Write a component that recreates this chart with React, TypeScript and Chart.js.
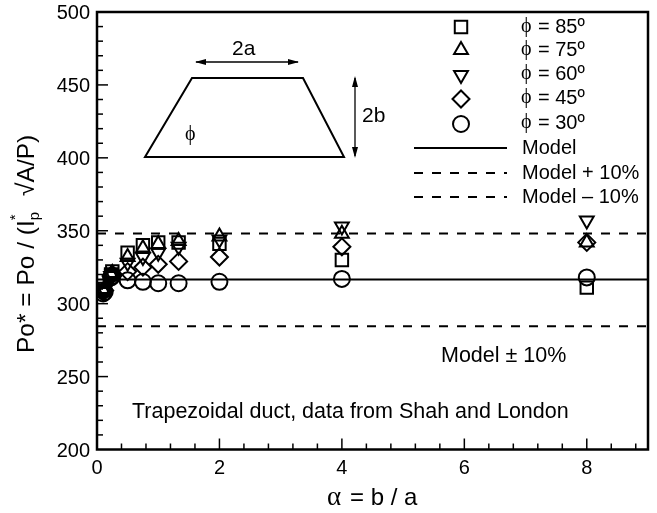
import React, { useEffect, useRef } from "react";
import { Chart, registerables } from "chart.js";
import { drawPoint } from "chart.js/helpers";

Chart.register(...registerables);

const alpha = [0.1, 0.125, 0.23, 0.25, 0.5, 0.75, 1, 1.333, 2, 4, 8];
const phi85 = [309, 310, 320, 322, 335, 340, 342, 342, 341, 330, 311];
const phi75 = [309, 310, 320, 321, 332, 338, 341, 343, 346, 348, 342];
const phi60 = [308, 309, 319, 320, 328, 332, 335, 339, 344, 353, 357];
const phi45 = [308, 309, 319, 320, 322, 325, 327, 329, 332, 339, 342];
const phi30 = [307, 308, 318, 319, 316, 315, 314, 314, 315, 317, 318];
const modelX = [0, 9];
const model = [316.5, 316.5];
const modelPlus = [348.2, 348.2];
const modelMinus = [284.5, 284.5];
const xMinorTicks = [0.4, 0.8, 1.2, 1.6, 2.4, 2.8, 3.2, 3.6, 4.4, 4.8, 5.2, 5.6, 6.4, 6.8, 7.2, 7.6, 8.4, 8.8];
const xMajorTicks = [2, 4, 6, 8];
const yMinorTicks = [210, 220, 230, 240, 260, 270, 280, 290, 310, 320, 330, 340, 360, 370, 380, 390, 410, 420, 430, 440, 460, 470, 480, 490];
const yMajorTicks = [250, 300, 350, 400, 450];

const FONT = '"Liberation Sans", Arial, sans-serif';
const GREEK = '"Liberation Serif", serif';
const pts = (v: number[]) => v.map((y, i) => ({ x: alpha[i], y }));
const line = (v: number[]) => v.map((y, i) => ({ x: modelX[i], y }));

const symbols = [
  { label: "= 85º", style: "rect", radius: 8.8, rotation: 0, y: 27, ty: 27 },
  { label: "= 75º", style: "triangle", radius: 8, rotation: 0, y: 50, ty: 50 },
  { label: "= 60º", style: "triangle", radius: 8, rotation: 180, y: 75, ty: 74 },
  { label: "= 45º", style: "rectRot", radius: 8.5, rotation: 0, y: 99, ty: 98 },
  { label: "= 30º", style: "circle", radius: 8, rotation: 0, y: 124, ty: 123 },
];

function arrowHead(ctx: CanvasRenderingContext2D, x: number, y: number, dx: number, dy: number) {
  const l = 11, w = 3;
  ctx.beginPath();
  ctx.moveTo(x, y);
  ctx.lineTo(x - dx * l - dy * w, y - dy * l - dx * w);
  ctx.lineTo(x - dx * l + dy * w, y - dy * l + dx * w);
  ctx.closePath();
  ctx.fill();
}

const decor = {
  id: "decor",
  afterDatasetsDraw(chart: any) {
    const { ctx, chartArea: a, scales } = chart;
    ctx.save();
    ctx.strokeStyle = "#000";
    ctx.fillStyle = "#000";

    ctx.lineWidth = 1.5;
    const tick = (x0: number, y0: number, x1: number, y1: number) => {
      ctx.beginPath(); ctx.moveTo(x0, y0); ctx.lineTo(x1, y1); ctx.stroke();
    };
    xMinorTicks.forEach((v) => { const x = scales.x.getPixelForValue(v); tick(x, a.bottom, x, a.bottom - 6); });
    xMajorTicks.forEach((v) => { const x = scales.x.getPixelForValue(v); tick(x, a.bottom, x, a.bottom - 11); });
    yMinorTicks.forEach((v) => { const y = scales.y.getPixelForValue(v); tick(a.left, y, a.left + 6, y); });
    yMajorTicks.forEach((v) => { const y = scales.y.getPixelForValue(v); tick(a.left, y, a.left + 11, y); });

    ctx.lineWidth = 2.5;
    ctx.strokeRect(a.left, a.top, a.right - a.left, a.bottom - a.top);

    ctx.lineWidth = 2;
    ctx.beginPath();
    ctx.moveTo(192, 78); ctx.lineTo(303, 78); ctx.lineTo(344, 157); ctx.lineTo(145, 157); ctx.closePath();
    ctx.stroke();
    ctx.lineWidth = 1.3;
    tick(196, 62, 298, 62);
    arrowHead(ctx, 195, 62, -1, 0);
    arrowHead(ctx, 299, 62, 1, 0);
    tick(355, 78, 355, 156);
    arrowHead(ctx, 355, 76, 0, -1);
    arrowHead(ctx, 355, 158, 0, 1);

    ctx.textBaseline = "middle";
    ctx.textAlign = "left";
    ctx.font = `21px ${FONT}`;
    ctx.fillText("2a", 232, 49);
    ctx.fillText("2b", 362, 116);
    ctx.font = `20px ${GREEK}`;
    ctx.fillText("ϕ", 185, 135);

    symbols.forEach((s) => {
      ctx.save();
      ctx.fillStyle = "rgba(0,0,0,0)";
      ctx.lineWidth = 2;
      drawPoint(ctx, { pointStyle: s.style, radius: s.radius, rotation: s.rotation, borderWidth: 2 }, 461, s.y);
      ctx.restore();
      ctx.font = `20px ${GREEK}`;
      ctx.fillText("ϕ", 521, s.ty);
      ctx.font = `20px ${FONT}`;
      ctx.fillText(s.label, 538, s.ty);
    });
    ctx.lineWidth = 2;
    tick(414, 148, 507, 148);
    ctx.setLineDash([9, 9]);
    tick(414, 173, 507, 173);
    tick(414, 197, 507, 197);
    ctx.setLineDash([]);
    ctx.font = `20px ${FONT}`;
    ctx.fillText("Model", 522, 148);
    ctx.fillText("Model + 10%", 522, 173);
    ctx.fillText("Model – 10%", 522, 197);

    ctx.font = `21.5px ${FONT}`;
    ctx.fillText("Model ± 10%", 441, 356);
    ctx.fillText("Trapezoidal duct, data from Shah and London", 132, 412);

    ctx.save();
    ctx.translate(27, 225);
    ctx.rotate(-Math.PI / 2);
    ctx.textAlign = "left";
    let x = -128;
    const put = (t: string, size: number, dy = 0) => {
      ctx.font = `${size}px ${FONT}`;
      ctx.fillText(t, x, dy);
      return ctx.measureText(t).width;
    };
    x += put("Po* = Po / (I", 24.5);
    put("*", 15, -11);
    x += put("p", 15, 8) + 16;
    x += put("√A/P)", 24.5);
    ctx.restore();

    ctx.font = `27px ${GREEK}`;
    ctx.fillText("α", 327, 498);
    ctx.font = `24px ${FONT}`;
    ctx.fillText("= b / a", 350, 498);
    ctx.restore();
  },
};

export default function App() {
  const ref = useRef<HTMLCanvasElement>(null);
  useEffect(() => {
    document.body.style.margin = "0";
    const mk = (label: string, v: number[], pointStyle: string, pointRadius: number, pointRotation = 0) => ({
      label, data: pts(v), pointStyle, pointRadius, pointRotation,
      borderColor: "#000", backgroundColor: "rgba(0,0,0,0)", pointBorderColor: "#000", pointBackgroundColor: "rgba(0,0,0,0)", pointBorderWidth: 2, showLine: false,
    });
    const ln = (label: string, v: number[], dash: number[]) => ({
      label, data: line(v), showLine: true, pointRadius: 0, borderColor: "#000", borderWidth: 2, borderDash: dash,
    });
    const chart = new Chart(ref.current!, {
      type: "scatter",
      data: {
        datasets: [
          ln("Model", model, []),
          ln("Model + 10%", modelPlus, [9, 9]),
          ln("Model – 10%", modelMinus, [9, 9]),
          mk("φ = 85º", phi85, "rect", 8.8),
          mk("φ = 75º", phi75, "triangle", 8),
          mk("φ = 60º", phi60, "triangle", 8, 180),
          mk("φ = 45º", phi45, "rectRot", 8.5),
          mk("φ = 30º", phi30, "circle", 8),
        ] as any,
      },
      options: {
        responsive: false,
        animation: false,
        layout: { padding: { top: 12, right: 9, left: 0, bottom: 0 }, autoPadding: false },
        plugins: { legend: { display: false }, tooltip: { enabled: false } },
        scales: {
          x: {
            type: "linear", min: 0, max: 9,
            grid: { display: false, drawTicks: false },
            border: { display: false },
            ticks: { stepSize: 2, color: "#000", padding: 7, maxRotation: 0, font: { family: FONT, size: 20 } },
            afterBuildTicks: (s: any) => { s.ticks = s.ticks.filter((t: any) => t.value !== 9); },
            afterFit: (s: any) => { s.height = 63.5; s.paddingLeft = 0; s.paddingRight = 0; },
          },
          y: {
            type: "linear", min: 200, max: 500,
            grid: { display: false, drawTicks: false },
            border: { display: false },
            ticks: { stepSize: 50, color: "#000", padding: 7, labelOffset: 1.5, font: { family: FONT, size: 20 } },
            afterFit: (s: any) => { s.width = 97; s.paddingTop = 0; s.paddingBottom = 0; },
          },
        },
      } as any,
      plugins: [decor],
    });
    return () => chart.destroy();
  }, []);
  return <canvas ref={ref} width={657} height={513} style={{ display: "block" }} />;
}
